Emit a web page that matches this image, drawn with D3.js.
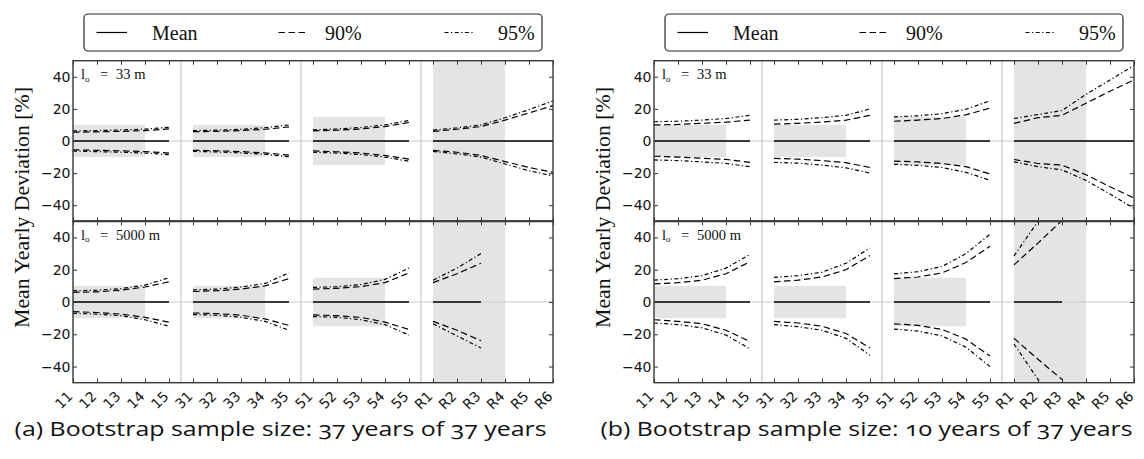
<!DOCTYPE html>
<html><head><meta charset="utf-8">
<script src="https://cdn.jsdelivr.net/npm/d3@7"></script>
<style>
html,body{margin:0;padding:0;background:#fff;}
svg{display:block;}
</style></head><body>
<svg id="fig" width="1144" height="459"></svg>
<script>
// Lead-time categories along the x axis (four groups)
const categories = ["11","12","13","14","15","31","32","33","34","35","51","52","53","54","55","R1","R2","R3","R4","R5","R6"];
const groupStarts = [0, 5, 10, 15];
const yTicks = [-40, -20, 0, 20, 40];
const shadeFrom = ["11", "31", "51", "R1"];
const shadeTo = ["14", "34", "54", "R4"];
const shadeHalf = [10, 10, 15, 50];
const separators = [["15", "31"], ["35", "51"], ["55", "R1"]];
const legendLabels = ["Mean", "90%", "95%"];
const panelLengths = ["33", "5000"];
const captions = ["(a) Bootstrap sample size: 37 years of 37 years",
                  "(b) Bootstrap sample size: 10 years of 37 years"];

// (a) 37 of 37 years, l = 33 m
const a33_mean = [0,0,0,0,0, 0,0,0,0,0, 0,0,0,0,0, 0,0,0,0,0,0];
const a33_hi90 = [5.5,5.7,6,6.5,7.5, 5.8,6,6.5,7.3,8.8, 6.3,6.7,7.5,9,11.5, 6,7.3,9,13,17.5,22];
const a33_hi95 = [6.3,6.5,6.9,7.4,8.5, 6.5,6.8,7.3,8.3,10, 7,7.5,8.4,10,12.8, 6.8,8.2,10,14.5,19.5,25];
const a33_lo90 = [-5.5,-5.8,-6.1,-6.6,-7.5, -5.8,-6.1,-6.6,-7.4,-8.8, -6.2,-6.7,-7.5,-9,-11.3, -5.8,-7,-9,-12.8,-16.5,-19.5];
const a33_lo95 = [-6.3,-6.6,-7,-7.5,-8.5, -6.5,-6.8,-7.4,-8.3,-9.8, -7,-7.5,-8.4,-10,-12.6, -6.5,-8,-10,-14.3,-18.5,-21.8];

// (a) 37 of 37 years, l = 5000 m
const a5000_mean = [0,0,0,0,0, 0,0,0,0,0, 0,0,0,0,0, 0,0,0,null,null,null];
const a5000_hi90 = [6,6.3,7.3,9.3,12.5, 6.5,7,8,10,14.5, 8,8.5,9.5,12,18, 12,17.5,24,null,null,null];
const a5000_hi95 = [7,7.3,8.3,10.5,15, 7.5,8,9.3,11.5,18, 9,9.5,10.8,14,21, 13.5,21,30,null,null,null];
const a5000_lo90 = [-6,-6.5,-7.5,-9.5,-12.5, -6.8,-7.2,-8.2,-10.5,-14.5, -8,-8.5,-9.5,-12.5,-17, -12,-17.5,-24,null,null,null];
const a5000_lo95 = [-7,-7.5,-8.5,-11,-15, -7.8,-8.2,-9.5,-12,-17.5, -9,-9.5,-11,-14,-20.5, -13.5,-21,-28.5,null,null,null];

// (b) 10 of 37 years, l = 33 m
const b33_mean = [0,0,0,0,0, 0,0,0,0,0, 0,0,0,0,0, 0,0,0,0,0,0];
const b33_hi90 = [10,10.3,11,11.7,13, 10.5,11,11.8,13,16, 12.3,13,14,16.3,20.5, 11,14.5,16,23.5,31,38];
const b33_hi95 = [12,12.3,13,14,16, 13,13.5,14.5,16,20, 15,15.7,17,19.8,25, 14,16.5,19,29,38,47];
const b33_lo90 = [-9.5,-10,-10.7,-11.5,-13.3, -10.8,-11.3,-12.2,-13.5,-16.5, -12.5,-13,-14,-16,-20.5, -11.5,-14,-15,-21,-28.5,-35.5];
const b33_lo95 = [-11.8,-12.2,-13,-14,-16, -13.3,-13.8,-15,-16.7,-20, -14.5,-15.2,-16.5,-19.5,-24.5, -13,-16,-18,-24.5,-33,-42];

// (b) 10 of 37 years, l = 5000 m
const b5000_mean = [0,0,0,0,0, 0,0,0,0,0, 0,0,0,0,0, 0,0,0,null,null,null];
const b5000_hi90 = [11.2,12,13.5,17.5,25, 12.5,13.5,15.5,20,28.8, 14.5,15.5,18,24.5,34.5, 23,36.5,50.5,null,null,null];
const b5000_hi95 = [13.5,14.5,16.3,21,29.5, 15.3,16.3,18.5,24,33.5, 17.4,18.8,22,30,42, 28.5,50,70,null,null,null];
const b5000_lo90 = [-11,-12,-13.5,-17.5,-24.5, -12,-13,-15,-19.5,-28.5, -13.5,-14.5,-17,-23,-33.5, -22.5,-35.5,-48,null,null,null];
const b5000_lo95 = [-13,-14,-16,-20.5,-29, -14,-15.3,-17.5,-22.5,-33, -16.8,-18,-21,-28,-40, -26,-48,-70,null,null,null];

const DASH90 = "6.5,3.5";
const DASH95 = "4,2.5,1.2,2.5";
const PW = 480;
const panels = [{y0: 60.7, y1: 221.3}, {y0: 221.3, y1: 382.7}];
const serif = "'Liberation Serif', 'DejaVu Serif', serif";
const sans = "'DejaVu Sans', sans-serif";

const fig = d3.select("#fig");
const labelLayer = [];

function styleAxis(g) {
  g.select(".domain").remove();
  g.selectAll(".tick line").attr("stroke", "#333").attr("stroke-width", 1);
  g.attr("font-family", sans).attr("font-size", 14);
  g.selectAll("text").attr("fill", "#111");
}

function drawChart(x0, data, caption, capX) {
  const x = d3.scalePoint().domain(categories).range([x0, x0 + PW]);
  const root = fig.append("g");

  panels.forEach((p, pi) => {
    const y = d3.scaleLinear().domain([-50, 50]).range([p.y1, p.y0]);
    const d = data[pi];
    const clipId = `clip${x0}_${pi}`;
    root.append("clipPath").attr("id", clipId).append("rect")
      .attr("x", x0).attr("y", p.y0).attr("width", PW).attr("height", p.y1 - p.y0);
    const pg = root.append("g").attr("clip-path", `url(#${clipId})`);

    // shaded reference bands
    shadeFrom.forEach((c, i) => {
      pg.append("rect")
        .attr("x", x(c)).attr("width", x(shadeTo[i]) - x(c))
        .attr("y", y(shadeHalf[i])).attr("height", y(-shadeHalf[i]) - y(shadeHalf[i]))
        .attr("fill", "#e4e4e4");
    });
    // zero reference line
    pg.append("line").attr("x1", x0).attr("x2", x0 + PW)
      .attr("y1", y(0)).attr("y2", y(0)).attr("stroke", "#c8c8c8").attr("stroke-width", 1.2);
    // group separators
    separators.forEach(([a, b]) => {
      const sx = (x(a) + x(b)) / 2;
      pg.append("line").attr("x1", sx).attr("x2", sx).attr("y1", p.y0).attr("y2", p.y1)
        .attr("stroke", "#c8c8c8").attr("stroke-width", 1.2);
    });

    // mean and confidence bounds, drawn per group
    const line = d3.line().x(v => x(v[0])).y(v => y(v[1]));
    const series = [[d.mean, null], [d.hi90, DASH90], [d.lo90, DASH90], [d.hi95, DASH95], [d.lo95, DASH95]];
    groupStarts.forEach((s, gi) => {
      const e = gi + 1 < groupStarts.length ? groupStarts[gi + 1] : categories.length;
      const cats = categories.slice(s, e);
      series.forEach(([arr, dash]) => {
        const pts = cats.map((c, k) => [c, arr[s + k]]).filter(v => v[1] != null);
        if (pts.length < 2) return;
        pg.append("path").attr("d", line(pts)).attr("fill", "none")
          .attr("stroke", "#000").attr("stroke-width", dash ? 1.2 : 1.4)
          .attr("stroke-dasharray", dash);
      });
    });

    // frame
    root.append("rect").attr("x", x0).attr("y", p.y0).attr("width", PW).attr("height", p.y1 - p.y0)
      .attr("fill", "none").attr("stroke", "#383838").attr("stroke-width", 1.4);

    // axes with inward ticks
    root.append("g").attr("transform", `translate(${x0},0)`)
      .call(d3.axisLeft(y).tickValues(yTicks).tickSizeInner(-4).tickSizeOuter(0).tickPadding(2.5))
      .call(styleAxis);
    root.append("g").attr("transform", `translate(${x0 + PW},0)`)
      .call(d3.axisRight(y).tickValues(yTicks).tickSizeInner(-4).tickSizeOuter(0).tickFormat(""))
      .call(styleAxis);
    root.append("g").attr("transform", `translate(0,${p.y0})`)
      .call(d3.axisTop(x).tickSizeInner(-4).tickSizeOuter(0).tickFormat(""))
      .call(styleAxis);
    root.append("g").attr("transform", `translate(0,${p.y1})`)
      .call(d3.axisBottom(x).tickSizeInner(-4).tickSizeOuter(0).tickFormat(""))
      .call(styleAxis);

    if (pi === 1) labelLayer.push({x, yBase: p.y1});

    // panel annotation
    const t = root.append("text").attr("x", x0 + 8).attr("y", p.y0 + 18.3)
      .attr("font-family", serif).attr("font-size", 14.5).attr("fill", "#111");
    t.append("tspan").text("l");
    t.append("tspan").attr("font-size", 9).attr("dy", 2.5).text("o");
    t.append("tspan").attr("x", x0 + 27).attr("dy", -2.5).text("=");
    t.append("tspan").attr("x", x0 + 43).text(panelLengths[pi] + " m");
  });

  // divider between the two panels
  root.append("line").attr("x1", x0).attr("x2", x0 + PW).attr("y1", panels[0].y1).attr("y2", panels[0].y1)
    .attr("stroke", "#383838").attr("stroke-width", 2);

  // y-axis title
  root.append("text")
    .attr("transform", `translate(${x0 - 44},207.5) rotate(-90)`)
    .attr("text-anchor", "middle")
    .attr("font-family", serif).attr("font-size", 20.5).attr("fill", "#111")
    .attr("textLength", 241).attr("lengthAdjust", "spacingAndGlyphs")
    .text("Mean Yearly Deviation [%]");

  // legend
  const lg = root.append("g");
  lg.append("rect").attr("x", x0 + 11).attr("y", 14).attr("width", 458).attr("height", 37)
    .attr("rx", 4).attr("fill", "#fff").attr("stroke", "#2a2a2a").attr("stroke-width", 1.2);
  const sampleX = [[23.5, 54], [205.5, 234], [371.5, 400]];
  const labelX = [79, 252, 425];
  const dashes = [null, DASH90, DASH95];
  legendLabels.forEach((lab, i) => {
    lg.append("line").attr("x1", x0 + sampleX[i][0]).attr("x2", x0 + sampleX[i][1])
      .attr("y1", 32.5).attr("y2", 32.5).attr("stroke", "#000").attr("stroke-width", 1.2)
      .attr("stroke-dasharray", dashes[i]);
    lg.append("text").attr("x", x0 + labelX[i]).attr("y", 39.5)
      .attr("font-family", serif).attr("font-size", 20).attr("fill", "#111").text(lab);
  });

  // caption
  root.append("text").attr("x", capX).attr("y", 436).attr("text-anchor", "middle")
    .attr("font-family", "'Open Sans', 'Noto Sans', sans-serif").attr("font-size", 20.5)
    .attr("fill", "#111").style("font-variant-numeric", "oldstyle-nums")
    .attr("textLength", 532).attr("lengthAdjust", "spacingAndGlyphs")
    .text(caption);
}

drawChart(73, [
  {mean: a33_mean, hi90: a33_hi90, hi95: a33_hi95, lo90: a33_lo90, lo95: a33_lo95},
  {mean: a5000_mean, hi90: a5000_hi90, hi95: a5000_hi95, lo90: a5000_lo90, lo95: a5000_lo95}
], captions[0], 280.6);

drawChart(654, [
  {mean: b33_mean, hi90: b33_hi90, hi95: b33_hi95, lo90: b33_lo90, lo95: b33_lo95},
  {mean: b5000_mean, hi90: b5000_hi90, hi95: b5000_hi95, lo90: b5000_lo90, lo95: b5000_lo95}
], captions[1], 866.5);

// slanted category labels under both lower panels (45 degrees, text end at the tick)
labelLayer.forEach(({x, yBase}) => {
  fig.append("g").selectAll("text").data(categories).join("text")
    .attr("transform", c => `translate(${x(c) - 3},${yBase + 10.9}) rotate(-45)`)
    .attr("dy", "0.36em").attr("text-anchor", "end")
    .attr("font-family", sans).attr("font-size", 14).attr("fill", "#111")
    .text(c => c);
});
</script>
</body></html>
